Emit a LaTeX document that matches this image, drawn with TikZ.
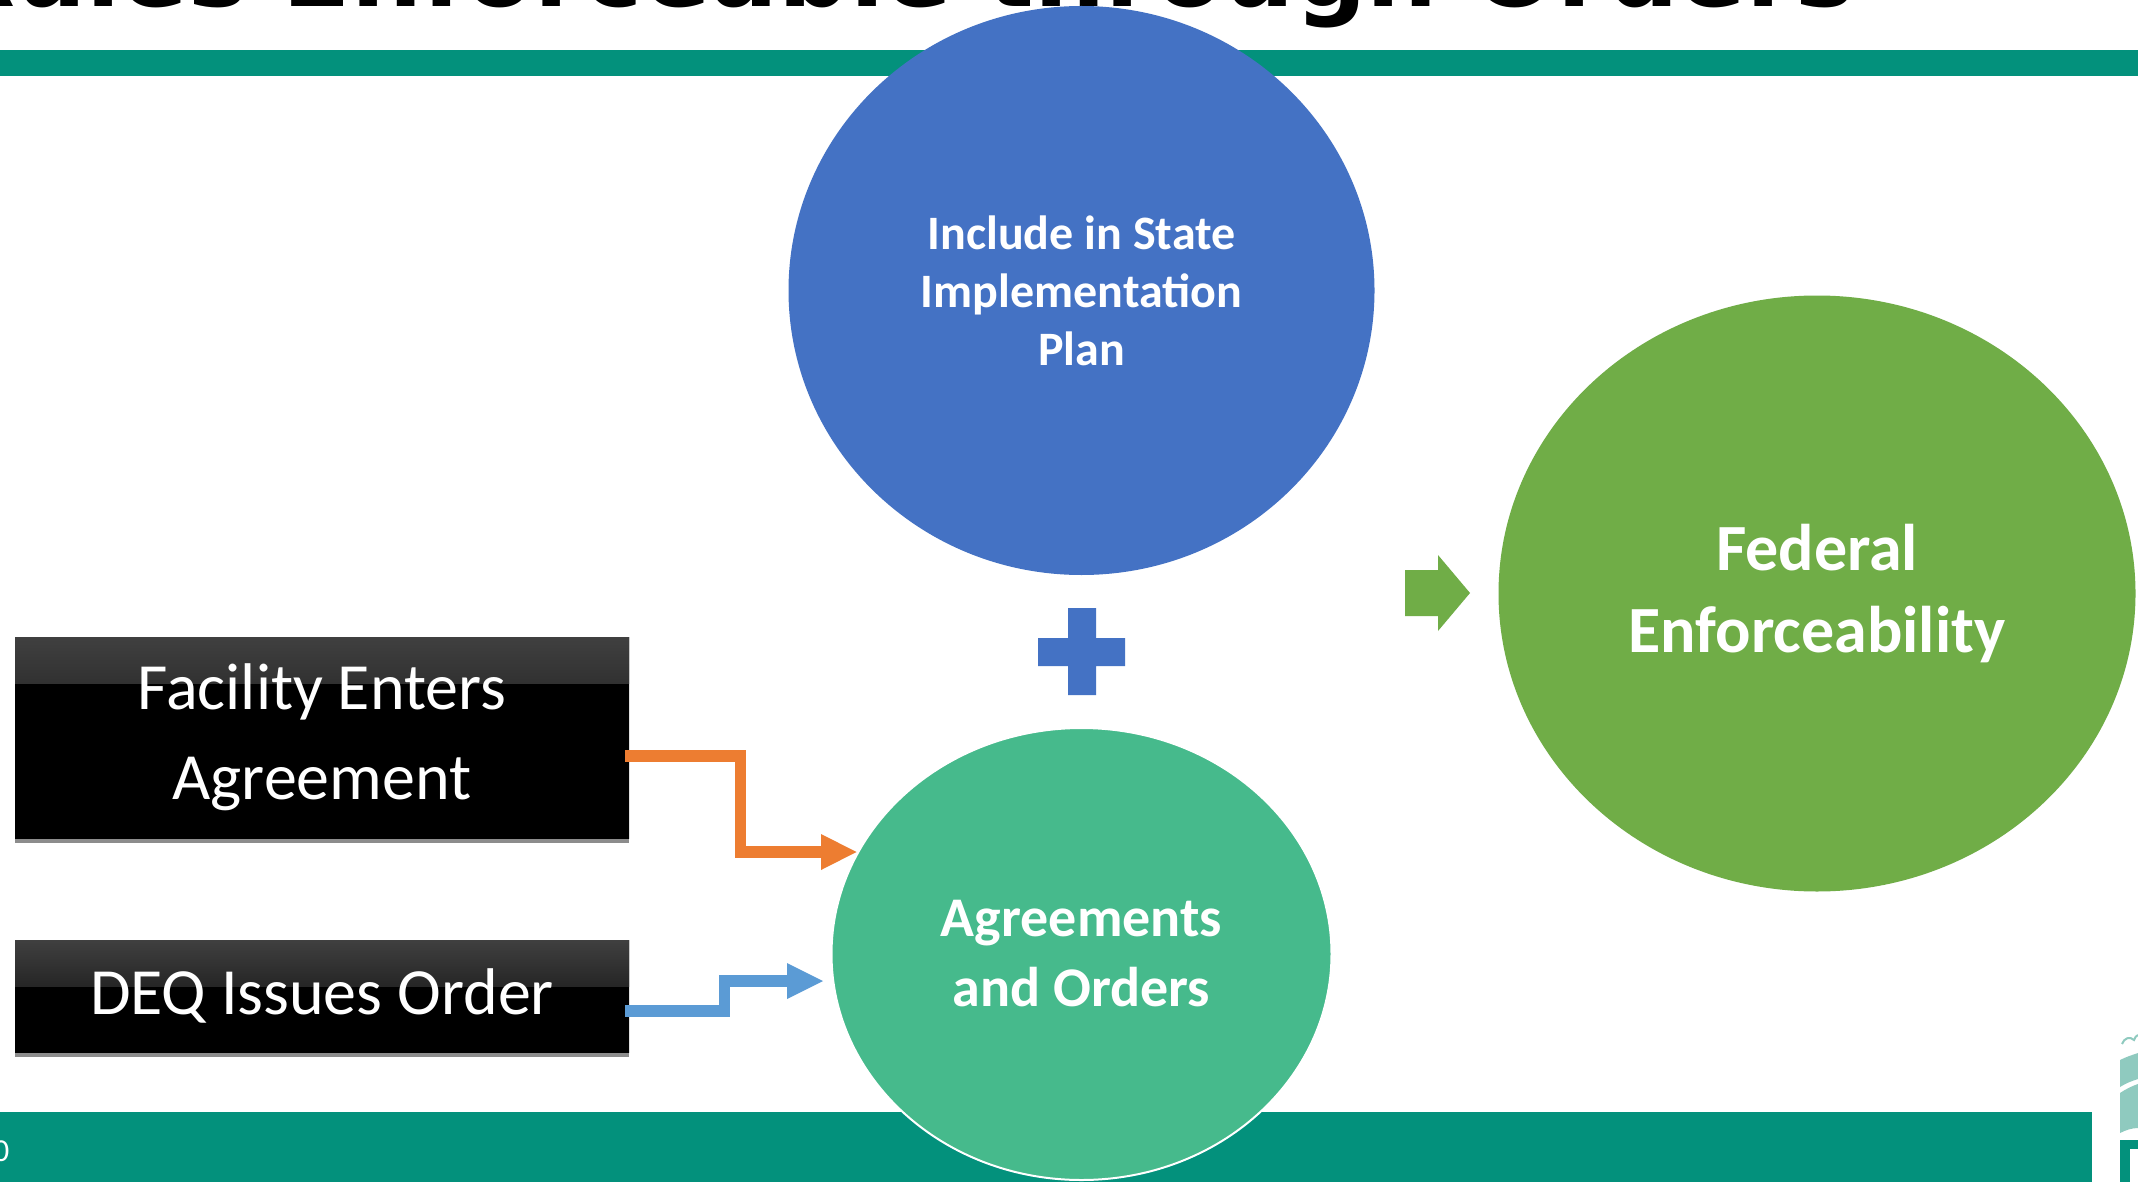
\documentclass[tikz,border=0pt]{standalone}
\usepackage{fontspec}
\setmainfont{Carlito}
\newfontfamily\titlefont{DejaVu Sans}
\usetikzlibrary{shadows,fadings}
\definecolor{band}{HTML}{03917C}
\definecolor{cblue}{HTML}{4472C4}
\definecolor{cteal}{HTML}{46BA8C}
\definecolor{cgreen}{HTML}{70AD47}
\definecolor{corange}{HTML}{ED7D31}
\definecolor{clblue}{HTML}{5B9BD5}
\definecolor{logolight}{HTML}{8FCABF}
\tikzset{
  x=1pt,y=-1pt,
  bandfill/.style={fill=band,draw=none},
  bubble/.style={ellipse,draw=white,line width=2pt,inner sep=0pt,text=white,font=\bfseries,align=center},
  blackbox/.style={rectangle,inner sep=0pt,text=white,align=center,top color=black,bottom color=black,
    path picture={\fill[top color=black!75,bottom color=black,draw=none] (path picture bounding box.north west) rectangle ([yshift=-46pt]path picture bounding box.north east);}},
  elbow/.style={line width=#1,line cap=butt,line join=miter}
}
\usetikzlibrary{shapes.geometric}
\begin{document}
\begin{tikzpicture}
\useasboundingbox (0,0) rectangle (2138,1182);
\clip (0,0) rectangle (2138,1182);
\fill[white] (0,0) rectangle (2138,1182);
% title
\node[anchor=base west,inner sep=0pt,font={\titlefont\bfseries\fontsize{100}{100}\selectfont},text=black] (title) at (-62,7) {Rules Enforceable through Orders};
% bands
\fill[bandfill] (0,50) rectangle (2138,76);
\fill[bandfill] (0,1112) rectangle (2092,1182);
\node[anchor=base west,inner sep=0pt,text=white,font=\fontsize{32}{32}\selectfont] (pagenum) at (-7,1161) {0};
% logo
\fill[logolight] (2120,1060) .. controls (2126,1057) and (2132,1055) .. (2138,1053) -- (2138,1079) .. controls (2132,1081) and (2126,1083) .. (2120,1087) -- cycle;
\fill[logolight] (2120,1093) .. controls (2126,1089) and (2132,1086) .. (2138,1084) -- (2138,1128) .. controls (2132,1128) and (2126,1130) .. (2120,1133) -- cycle;
\draw[logolight,line width=2pt] (2122,1044) .. controls (2124,1038) and (2130,1036) .. (2134,1040) .. controls (2135,1037) and (2136,1036) .. (2138,1035);
\fill[band] (2120,1140) rectangle (2138,1182);
\fill[white] (2130,1149) rectangle (2138,1182);
% circles
\node[bubble,cblue,fill=cblue,text=white,minimum width=584pt,minimum height=567pt,font=\bfseries\fontsize{48}{58}\selectfont] (sip) at (1081.5,290.5) {Include in State\\Implementation\\Plan};
\node[bubble,fill=cteal,minimum width=500pt,minimum height=452pt,font=\bfseries\fontsize{56}{70}\selectfont] (ao) at (1081.5,954) {Agreements\\and Orders};
\node[bubble,draw=none,fill=cgreen,minimum width=637pt,minimum height=596pt,font=\bfseries\fontsize{66}{82}\selectfont] (fed) at (1817,593.5) {Federal\\Enforceability};
% plus
\fill[cblue] (1068,608) -- (1096,608) -- (1096,638) -- (1125,638) -- (1125,666) -- (1096,666) -- (1096,695) -- (1068,695) -- (1068,666) -- (1038,666) -- (1038,638) -- (1068,638) -- cycle;
% green arrow
\fill[cgreen] (1405,570) -- (1438,570) -- (1438,555) -- (1470,593) -- (1438,631) -- (1438,616) -- (1405,616) -- cycle;
% boxes
\node[blackbox,drop shadow={shadow xshift=0pt,shadow yshift=-5pt,opacity=.45,fill=black},minimum width=614pt,minimum height=201pt,font=\fontsize{66}{90}\selectfont] (fe) at (322,737.5) {Facility Enters\\Agreement};
\node[blackbox,drop shadow={shadow xshift=0pt,shadow yshift=-5pt,opacity=.45,fill=black},minimum width=614pt,minimum height=112pt,font=\fontsize{66}{80}\selectfont] (deq) at (322,996) {DEQ Issues Order};
% connectors
\coordinate (o1) at (625,756);
\coordinate (o2) at (740.5,756);
\coordinate (o3) at (740.5,852);
\coordinate (o4) at (822,852);
\draw[corange,elbow=11.5pt] (o1) -- (o2) -- (o3) -- (o4);
\fill[corange] (821,834) -- (856.5,852) -- (821,870) -- cycle;
\coordinate (b1) at (625,1011);
\coordinate (b2) at (724.5,1011);
\coordinate (b3) at (724.5,981);
\coordinate (b4) at (788,981);
\draw[clblue,elbow=11.5pt] (b1) -- (b2) -- (b3) -- (b4);
\fill[clblue] (787,963) -- (823,981) -- (787,999) -- cycle;
\end{tikzpicture}
\end{document}
